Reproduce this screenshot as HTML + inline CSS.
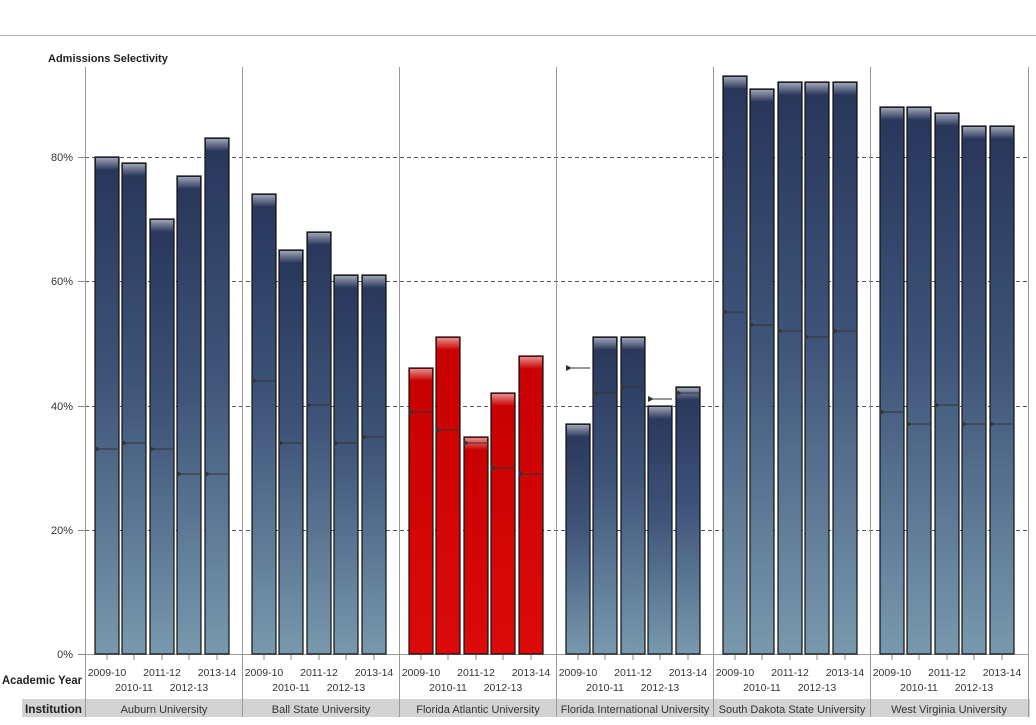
<!DOCTYPE html>
<html><head><meta charset="utf-8"><style>
body{margin:0;background:#fff;}
svg{display:block;font-family:"Liberation Sans",sans-serif;}
</style></head><body>
<svg width="1036" height="725" viewBox="0 0 1036 725" xmlns="http://www.w3.org/2000/svg">
<defs>
<linearGradient id="b" x1="0" y1="0" x2="0" y2="1"><stop offset="0" stop-color="#28355a"/><stop offset="0.45" stop-color="#3e5479"/><stop offset="1" stop-color="#7899ae"/></linearGradient>
<linearGradient id="r" x1="0" y1="0" x2="0" y2="1"><stop offset="0" stop-color="#c80000"/><stop offset="1" stop-color="#dc0a0a"/></linearGradient>
<linearGradient id="g" x1="0" y1="0" x2="0" y2="1"><stop offset="0" stop-color="#fff" stop-opacity="0.55"/><stop offset="1" stop-color="#fff" stop-opacity="0"/></linearGradient>
</defs>
<line x1="0" y1="35.5" x2="1036" y2="35.5" stroke="#b4b4b4"/>
<text x="48" y="62" font-size="11" font-weight="bold" fill="#222">Admissions Selectivity</text>
<g stroke="#555" stroke-dasharray="4,3" stroke-width="1">
<line x1="85" y1="157.5" x2="1030" y2="157.5"/>
<line x1="85" y1="281.5" x2="1030" y2="281.5"/>
<line x1="85" y1="406.5" x2="1030" y2="406.5"/>
<line x1="85" y1="530.5" x2="1030" y2="530.5"/>
</g>
<g font-size="11" fill="#333" text-anchor="end">
<text x="73" y="161">80%</text><text x="73" y="285">60%</text><text x="73" y="410">40%</text><text x="73" y="534">20%</text><text x="73" y="658">0%</text>
</g>
<g stroke="#888"><line x1="78" y1="157.5" x2="85" y2="157.5"/><line x1="78" y1="281.5" x2="85" y2="281.5"/><line x1="78" y1="406.5" x2="85" y2="406.5"/><line x1="78" y1="530.5" x2="85" y2="530.5"/><line x1="78" y1="654.5" x2="85" y2="654.5"/></g>
<g stroke="#999">
<line x1="85.5" y1="67" x2="85.5" y2="717"/><line x1="242.5" y1="67" x2="242.5" y2="717"/><line x1="399.5" y1="67" x2="399.5" y2="717"/><line x1="556.5" y1="67" x2="556.5" y2="717"/><line x1="713.5" y1="67" x2="713.5" y2="717"/><line x1="870.5" y1="67" x2="870.5" y2="717"/><line x1="1028.5" y1="67" x2="1028.5" y2="717"/>
<line x1="85" y1="654.5" x2="1028" y2="654.5"/>
</g>
<g stroke="#111" stroke-width="1.2">
<rect x="95" y="157" width="24" height="497" fill="url(#b)"/><rect x="122" y="163" width="24" height="491" fill="url(#b)"/><rect x="150" y="219" width="24" height="435" fill="url(#b)"/><rect x="177" y="176" width="24" height="478" fill="url(#b)"/><rect x="205" y="138" width="24" height="516" fill="url(#b)"/>
<rect x="252" y="194" width="24" height="460" fill="url(#b)"/><rect x="279" y="250" width="24" height="404" fill="url(#b)"/><rect x="307" y="232" width="24" height="422" fill="url(#b)"/><rect x="334" y="275" width="24" height="379" fill="url(#b)"/><rect x="362" y="275" width="24" height="379" fill="url(#b)"/>
<rect x="409" y="368" width="24" height="286" fill="url(#r)"/><rect x="436" y="337" width="24" height="317" fill="url(#r)"/><rect x="464" y="437" width="24" height="217" fill="url(#r)"/><rect x="491" y="393" width="24" height="261" fill="url(#r)"/><rect x="519" y="356" width="24" height="298" fill="url(#r)"/>
<rect x="566" y="424" width="24" height="230" fill="url(#b)"/><rect x="593" y="337" width="24" height="317" fill="url(#b)"/><rect x="621" y="337" width="24" height="317" fill="url(#b)"/><rect x="648" y="406" width="24" height="248" fill="url(#b)"/><rect x="676" y="387" width="24" height="267" fill="url(#b)"/>
<rect x="723" y="76" width="24" height="578" fill="url(#b)"/><rect x="750" y="89" width="24" height="565" fill="url(#b)"/><rect x="778" y="82" width="24" height="572" fill="url(#b)"/><rect x="805" y="82" width="24" height="572" fill="url(#b)"/><rect x="833" y="82" width="24" height="572" fill="url(#b)"/>
<rect x="880" y="107" width="24" height="547" fill="url(#b)"/><rect x="907" y="107" width="24" height="547" fill="url(#b)"/><rect x="935" y="113" width="24" height="541" fill="url(#b)"/><rect x="962" y="126" width="24" height="528" fill="url(#b)"/><rect x="990" y="126" width="24" height="528" fill="url(#b)"/>
</g>
<g fill="url(#g)">
<rect x="96" y="158" width="22" height="12"/><rect x="123" y="164" width="22" height="12"/><rect x="151" y="220" width="22" height="12"/><rect x="178" y="177" width="22" height="12"/><rect x="206" y="139" width="22" height="12"/>
<rect x="253" y="195" width="22" height="12"/><rect x="280" y="251" width="22" height="12"/><rect x="308" y="233" width="22" height="12"/><rect x="335" y="276" width="22" height="12"/><rect x="363" y="276" width="22" height="12"/>
<rect x="410" y="369" width="22" height="12"/><rect x="437" y="338" width="22" height="12"/><rect x="465" y="438" width="22" height="12"/><rect x="492" y="394" width="22" height="12"/><rect x="520" y="357" width="22" height="12"/>
<rect x="567" y="425" width="22" height="12"/><rect x="594" y="338" width="22" height="12"/><rect x="622" y="338" width="22" height="12"/><rect x="649" y="407" width="22" height="12"/><rect x="677" y="388" width="22" height="12"/>
<rect x="724" y="77" width="22" height="12"/><rect x="751" y="90" width="22" height="12"/><rect x="779" y="83" width="22" height="12"/><rect x="806" y="83" width="22" height="12"/><rect x="834" y="83" width="22" height="12"/>
<rect x="881" y="108" width="22" height="12"/><rect x="908" y="108" width="22" height="12"/><rect x="936" y="114" width="22" height="12"/><rect x="963" y="127" width="22" height="12"/><rect x="991" y="127" width="22" height="12"/>
</g>
<g stroke="#333" stroke-width="1">
<path d="M95 449H119M122 443H146M150 449H174M177 474H201M205 474H229"/>
<path d="M252 381H276M279 443H303M307 405H331M334 443H358M362 437H386"/>
<path d="M409 412H433M436 430H460M464 443H488M491 468H515M519 474H543"/>
<path d="M566 368H590M593 393H617M621 387H645M648 399H672M676 393H700"/>
<path d="M723 312H747M750 325H774M778 331H802M805 337H829M833 331H857"/>
<path d="M880 412H904M907 424H931M935 405H959M962 424H986M990 424H1014"/>
</g>
<g fill="#333">
<path d="M566 365l6 3l-6 3z"/><path d="M648 396l6 3l-6 3z"/><path d="M593 390l6 3l-6 3z"/><path d="M621 384l6 3l-6 3z"/><path d="M676 390l6 3l-6 3z"/>
<path d="M95 446l5 3l-5 3z"/><path d="M122 440l5 3l-5 3z"/><path d="M150 446l5 3l-5 3z"/><path d="M177 471l5 3l-5 3z"/><path d="M205 471l5 3l-5 3z"/>
<path d="M252 378l5 3l-5 3z"/><path d="M279 440l5 3l-5 3z"/><path d="M307 402l5 3l-5 3z"/><path d="M334 440l5 3l-5 3z"/><path d="M362 434l5 3l-5 3z"/>
<path d="M409 409l5 3l-5 3z"/><path d="M436 427l5 3l-5 3z"/><path d="M464 440l5 3l-5 3z"/><path d="M491 465l5 3l-5 3z"/><path d="M519 471l5 3l-5 3z"/>
<path d="M723 309l5 3l-5 3z"/><path d="M750 322l5 3l-5 3z"/><path d="M778 328l5 3l-5 3z"/><path d="M805 334l5 3l-5 3z"/><path d="M833 328l5 3l-5 3z"/>
<path d="M880 409l5 3l-5 3z"/><path d="M907 421l5 3l-5 3z"/><path d="M935 402l5 3l-5 3z"/><path d="M962 421l5 3l-5 3z"/><path d="M990 421l5 3l-5 3z"/>
</g>
<g stroke="#888">
<path d="M107 655v5M134 655v5M162 655v5M189 655v5M217 655v5M264 655v5M291 655v5M319 655v5M346 655v5M374 655v5M421 655v5M448 655v5M476 655v5M503 655v5M531 655v5M578 655v5M605 655v5M633 655v5M660 655v5M688 655v5M735 655v5M762 655v5M790 655v5M817 655v5M845 655v5M892 655v5M919 655v5M947 655v5M974 655v5M1002 655v5"/>
</g>
<g font-size="10.5" fill="#333" text-anchor="middle">
<text x="107" y="676">2009-10</text><text x="162" y="676">2011-12</text><text x="217" y="676">2013-14</text><text x="134" y="691">2010-11</text><text x="189" y="691">2012-13</text>
<text x="264" y="676">2009-10</text><text x="319" y="676">2011-12</text><text x="374" y="676">2013-14</text><text x="291" y="691">2010-11</text><text x="346" y="691">2012-13</text>
<text x="421" y="676">2009-10</text><text x="476" y="676">2011-12</text><text x="531" y="676">2013-14</text><text x="448" y="691">2010-11</text><text x="503" y="691">2012-13</text>
<text x="578" y="676">2009-10</text><text x="633" y="676">2011-12</text><text x="688" y="676">2013-14</text><text x="605" y="691">2010-11</text><text x="660" y="691">2012-13</text>
<text x="735" y="676">2009-10</text><text x="790" y="676">2011-12</text><text x="845" y="676">2013-14</text><text x="762" y="691">2010-11</text><text x="817" y="691">2012-13</text>
<text x="892" y="676">2009-10</text><text x="947" y="676">2011-12</text><text x="1002" y="676">2013-14</text><text x="919" y="691">2010-11</text><text x="974" y="691">2012-13</text>
</g>
<text x="2" y="684" font-size="12" font-weight="bold" fill="#222" textLength="80" lengthAdjust="spacingAndGlyphs">Academic Year</text>
<rect x="22" y="699" width="1008" height="18" fill="#d3d3d3"/>
<g stroke="#999"><path d="M85.5 699v18M242.5 699v18M399.5 699v18M556.5 699v18M713.5 699v18M870.5 699v18M1028.5 699v18"/></g>
<text x="25" y="713" font-size="12" font-weight="bold" fill="#222" textLength="57" lengthAdjust="spacingAndGlyphs">Institution</text>
<g font-size="11" fill="#333" text-anchor="middle">
<text x="164" y="713">Auburn University</text><text x="321" y="713">Ball State University</text><text x="478" y="713">Florida Atlantic University</text><text x="635" y="713">Florida International University</text><text x="792" y="713">South Dakota State University</text><text x="949" y="713">West Virginia University</text>
</g>
</svg>
</body></html>
